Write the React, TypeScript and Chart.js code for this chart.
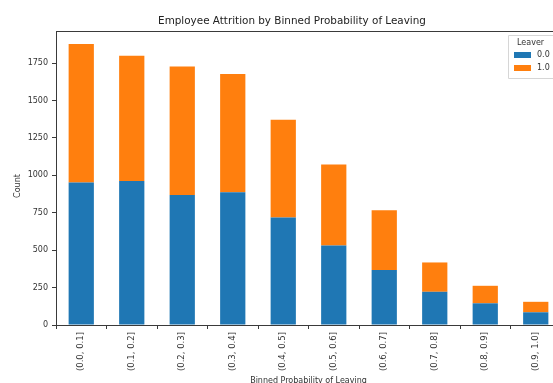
import React, { useEffect, useRef } from "react";
import { Chart, registerables } from "chart.js";

Chart.register(...registerables);

const categories = [
  "(0.0, 0.1]", "(0.1, 0.2]", "(0.2, 0.3]", "(0.3, 0.4]", "(0.4, 0.5]",
  "(0.5, 0.6]", "(0.6, 0.7]", "(0.7, 0.8]", "(0.8, 0.9]", "(0.9, 1.0]",
];
const stayed = [953, 962, 869, 887, 718, 531, 367, 222, 145, 85];
const left = [925, 838, 858, 791, 653, 542, 400, 196, 117, 70];
const seriesLabels = ["0.0", "1.0"];
const yTicks = [0, 250, 500, 750, 1000, 1250, 1500, 1750];

const titleText = "Employee Attrition by Binned Probability of Leaving";
const legendTitle = "Leaver";
const xTitle = "Binned Probability of Leaving";
const yTitle = "Count";

const FONT = "'DejaVu Sans', sans-serif";
const BLUE = "#1f77b4";
const ORANGE = "#ff7f0e";
const SPINE = "#3a3a3a";

const CANVAS_W = 561;
const CANVAS_H = 383;
const AREA_LEFT = 56;
const AREA_TOP = 31;
const AREA_BOTTOM = 325;

const decorPlugin = {
  id: "decor",
  afterDraw(chart: any) {
    const ctx = chart.ctx;
    const a = chart.chartArea;
    ctx.save();
    ctx.strokeStyle = SPINE;
    ctx.lineWidth = 1;
    ctx.beginPath();
    ctx.moveTo(a.left, a.top + 0.5);
    ctx.lineTo(a.right, a.top + 0.5);
    ctx.moveTo(a.right - 0.5, a.top);
    ctx.lineTo(a.right - 0.5, a.bottom);
    ctx.stroke();

    ctx.fillStyle = "#222";
    ctx.font = `10.4px ${FONT}`;
    ctx.textAlign = "center";
    ctx.textBaseline = "alphabetic";
    ctx.fillText(titleText, 292, 24);

    ctx.save();
    ctx.translate(18, 186);
    ctx.rotate(-Math.PI / 2);
    ctx.font = `8px ${FONT}`;
    ctx.fillStyle = "#333";
    ctx.textAlign = "center";
    ctx.textBaseline = "middle";
    ctx.fillText(yTitle, 0, 0);
    ctx.restore();

    const lx = 508, ly = 35, lw = 60, lh = 43;
    ctx.fillStyle = "rgba(255,255,255,0.85)";
    ctx.strokeStyle = "#d6d6d6";
    ctx.beginPath();
    ctx.rect(lx + 0.5, ly + 0.5, lw, lh);
    ctx.fill();
    ctx.stroke();
    ctx.fillStyle = "#333";
    ctx.font = `8px ${FONT}`;
    ctx.textAlign = "left";
    ctx.textBaseline = "middle";
    ctx.fillText(legendTitle, lx + 9, ly + 8);
    chart.data.datasets.forEach((ds: any, i: number) => {
      const y = ly + 20 + i * 13;
      ctx.fillStyle = ds.backgroundColor;
      ctx.fillRect(lx + 6, y - 3, 17, 6);
      ctx.fillStyle = "#333";
      ctx.fillText(ds.label, lx + 29, y);
    });
    ctx.restore();
  },
};

export default function App() {
  const ref = useRef<HTMLCanvasElement>(null);
  useEffect(() => {
    if (!ref.current) return;
    const chart = new Chart(ref.current, {
      type: "bar",
      data: {
        labels: categories,
        datasets: [
          { label: seriesLabels[0], data: stayed, backgroundColor: BLUE, categoryPercentage: 1, barPercentage: 0.5 },
          { label: seriesLabels[1], data: left, backgroundColor: ORANGE, categoryPercentage: 1, barPercentage: 0.5 },
        ],
      },
      options: {
        animation: false,
        responsive: false,
        maintainAspectRatio: false,
        layout: { padding: { top: AREA_TOP, left: 0, right: 0, bottom: 0 } },
        plugins: {
          legend: { display: false },
          title: { display: false },
          tooltip: { enabled: false },
        },
        scales: {
          x: {
            stacked: true,
            grid: { display: true, drawOnChartArea: false, drawTicks: true, tickLength: 4, color: SPINE },
            border: { display: true, color: SPINE },
            ticks: {
              minRotation: 90,
              maxRotation: 90,
              color: "#333",
              font: { family: FONT, size: 8.5 },
              padding: 3,
            },
            title: {
              display: true,
              text: xTitle,
              color: "#333",
              font: { family: FONT, size: 8 },
              padding: { top: 3, bottom: 0 },
            },
            afterFit(scale: any) {
              scale.height = CANVAS_H - AREA_BOTTOM + 3;
            },
          },
          y: {
            stacked: true,
            min: 0,
            max: 1965,
            grid: { display: true, drawOnChartArea: false, drawTicks: true, tickLength: 4, color: SPINE },
            border: { display: true, color: SPINE },
            ticks: {
              color: "#333",
              font: { family: FONT, size: 8 },
              padding: 4,
              callback: (v: any) => String(v),
            },
            afterBuildTicks(scale: any) {
              scale.ticks = yTicks.map((v) => ({ value: v }));
            },
            title: { display: false },
            afterFit(scale: any) {
              scale.width = AREA_LEFT;
            },
          },
        },
      },
      plugins: [decorPlugin],
    });
    return () => chart.destroy();
  }, []);

  return (
    <div style={{ position: "fixed", left: 0, top: 0, width: 553, height: 383, overflow: "hidden", background: "#fff" }}>
      <canvas ref={ref} width={CANVAS_W} height={CANVAS_H + 3} style={{ display: "block", width: CANVAS_W, height: CANVAS_H + 3 }} />
    </div>
  );
}
